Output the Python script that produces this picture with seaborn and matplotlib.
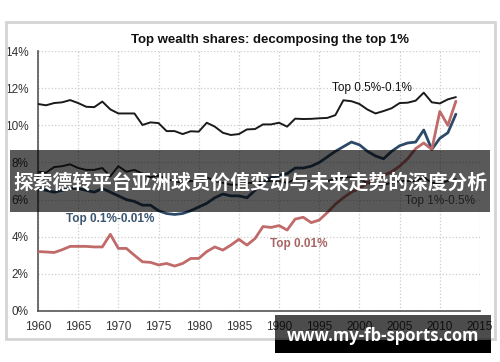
import numpy as np
import pandas as pd
import seaborn as sns
import matplotlib.pyplot as plt
from matplotlib.patches import Rectangle

years = list(range(1960, 2013))

# Shares of total wealth (%)
top_05_01 = [11.15, 11.08, 11.2, 11.24, 11.36, 11.2, 11.0, 10.98, 11.28, 10.86,
             10.64, 10.64, 10.64, 10.02, 10.16, 10.12, 9.69, 9.69, 9.53, 9.68,
             9.66, 10.14, 9.93, 9.6, 9.48, 9.53, 9.78, 9.8, 10.05, 10.05,
             10.14, 9.93, 10.36, 10.34, 10.35, 10.38, 10.4, 10.55, 11.35, 11.3,
             11.15, 10.85, 10.64, 10.77, 10.92, 11.2, 11.22, 11.33, 11.76, 11.24,
             11.18, 11.4, 11.52]
top_1_05 = [7.5, 7.45, 7.75, 7.8, 7.9, 7.7, 7.6, 7.6, 7.7, 7.25,
            7.8, 7.5, 7.6, 7.4, 7.2, 7.3, 7.1, 7.0, 6.9, 7.0,
            7.0, 7.2, 7.0, 6.9, 6.8, 6.8, 6.9, 6.9, 7.0, 7.0,
            7.0, 6.9, 7.1, 7.0, 7.0, 7.0, 7.0, 7.1, 7.2, 7.2,
            7.1, 6.9, 6.8, 6.8, 6.9, 7.0, 7.0, 7.0, 7.2, 6.9,
            6.9, 7.0, 7.1]
top_01_001 = [6.6, 6.5, 6.4, 6.5, 6.6, 6.6, 6.5, 6.4, 6.6, 6.4,
              6.2, 6.0, 5.9, 5.7, 5.7, 5.4, 5.25, 5.2, 5.25, 5.4,
              5.6, 5.8, 6.1, 6.3, 6.2, 6.2, 6.1, 6.5, 6.9, 7.2,
              7.3, 7.4, 7.7, 7.7, 7.8, 8.0, 8.3, 8.6, 8.85, 9.1,
              8.95, 8.6, 8.35, 8.2, 8.6, 8.9, 9.05, 9.1, 9.75, 8.7,
              9.3, 9.6, 10.6]
top_001 = [3.2, 3.18, 3.15, 3.3, 3.48, 3.48, 3.48, 3.45, 3.45, 4.13,
           3.37, 3.37, 3.0, 2.65, 2.62, 2.48, 2.56, 2.42, 2.56, 2.83,
           2.83, 3.2, 3.45, 3.28, 3.55, 3.86, 3.55, 3.9, 4.55, 4.5,
           4.6, 4.36, 4.95, 5.05, 4.76, 4.9, 5.3, 5.75, 6.1, 6.4,
           6.6, 6.9, 7.2, 7.3, 7.5, 7.8, 8.2, 8.75, 9.05, 8.7,
           10.75, 10.0, 11.3]

series = ["Top 0.5%-0.1%", "Top 1%-0.5%", "Top 0.1%-0.01%", "Top 0.01%"]
df = pd.DataFrame({
    "year": years * 4,
    "share": top_05_01 + top_1_05 + top_01_001 + top_001,
    "group": sum([[s] * len(years) for s in series], []),
})

sns.set_style("white")
plt.rcParams["font.family"] = ["Liberation Sans", "DejaVu Sans"]

fig = plt.figure(figsize=(5.0, 3.62), dpi=100)
ax = fig.add_axes([0.076, 0.1409, 0.884, 0.718])

palette = {"Top 0.5%-0.1%": "#1a1a1a", "Top 1%-0.5%": "#2a2a2a",
           "Top 0.1%-0.01%": "#2c4a68", "Top 0.01%": "#c06a6a"}
widths = {"Top 0.5%-0.1%": 1.4, "Top 1%-0.5%": 1.4,
          "Top 0.1%-0.01%": 2.0, "Top 0.01%": 2.0}
for s in series:
    sns.lineplot(data=df[df["group"] == s], x="year", y="share", color=palette[s],
                 lw=widths[s], ax=ax, legend=False, zorder=3)

ax.set_xlim(1960, 2015)
ax.set_ylim(0, 14)
ax.set_xticks(range(1960, 2016, 5))
ax.set_yticks(range(0, 15, 2))
ax.set_yticklabels([f"{v}%" for v in range(0, 15, 2)])
ax.set_xlabel("")
ax.set_ylabel("")
ax.grid(True, color="#cccccc", ls=":", lw=0.9)
for side in ["top", "right"]:
    ax.spines[side].set_visible(False)
for side in ["left", "bottom"]:
    ax.spines[side].set_color("#555555")
    ax.spines[side].set_linewidth(1.2)
ax.tick_params(axis="both", length=0, labelsize=8.5, colors="#333333")
ax.tick_params(axis="y", pad=7)
ax.tick_params(axis="x", pad=7)

ax.text(2001.5, 12.0, "Top 0.5%-0.1%", fontsize=8.5, color="#111111", ha="center", va="center")
ax.text(1969.0, 4.95, "Top 0.1%-0.01%", fontsize=8.5, color="#3a5570", ha="center",
        va="center", fontweight="bold")
ax.text(1992.5, 3.6, "Top 0.01%", fontsize=8.5, color="#a86464", ha="center",
        va="center", fontweight="bold")
ax.text(2010.0, 5.9, "Top 1%-0.5%", fontsize=8.5, color="#555555", ha="center", va="center")

fig.text(0.54, 1 - 40 / 362, "Top wealth shares: decomposing the top 1%",
         fontsize=9.5, fontweight="bold", ha="center", va="center", color="#111111")

# screenshot frame
fig.add_artist(Rectangle((6 / 500, 1 - 339 / 362), 489 / 500, 317 / 362,
                         transform=fig.transFigure, fill=False, ec="#d4d4d4", lw=2.0))

# overlay banner
fig.add_artist(Rectangle((10 / 500, 1 - 212 / 362), 480 / 500, 62 / 362,
                         transform=fig.transFigure, fc="black", alpha=0.65, lw=0, zorder=5))
fig.text(0.5, 1 - 183 / 362, "探索德转平台亚洲球员价值变动与未来走势的深度分析",
         family=["Noto Sans CJK SC", "DejaVu Sans"], fontsize=14.2, fontweight="bold",
         color="white", ha="center", va="center", zorder=6)

# watermark
fig.add_artist(Rectangle((275 / 500, 1 - 340 / 362), 216 / 500, 25 / 362,
                         transform=fig.transFigure, fc="black", alpha=0.7, lw=0, zorder=5))
fig.add_artist(Rectangle((275 / 500, 1 - 353 / 362), 216 / 500, 13 / 362,
                         transform=fig.transFigure, fc="black", lw=0, zorder=5))
fig.text(383 / 500, 1 - 336 / 362, "www.my-fb-sports.com", fontsize=12, fontweight="bold",
         color="white", ha="center", va="center", zorder=6,
         family=["Open Sans", "DejaVu Sans"])

fig.savefig("out.png", dpi=100)
